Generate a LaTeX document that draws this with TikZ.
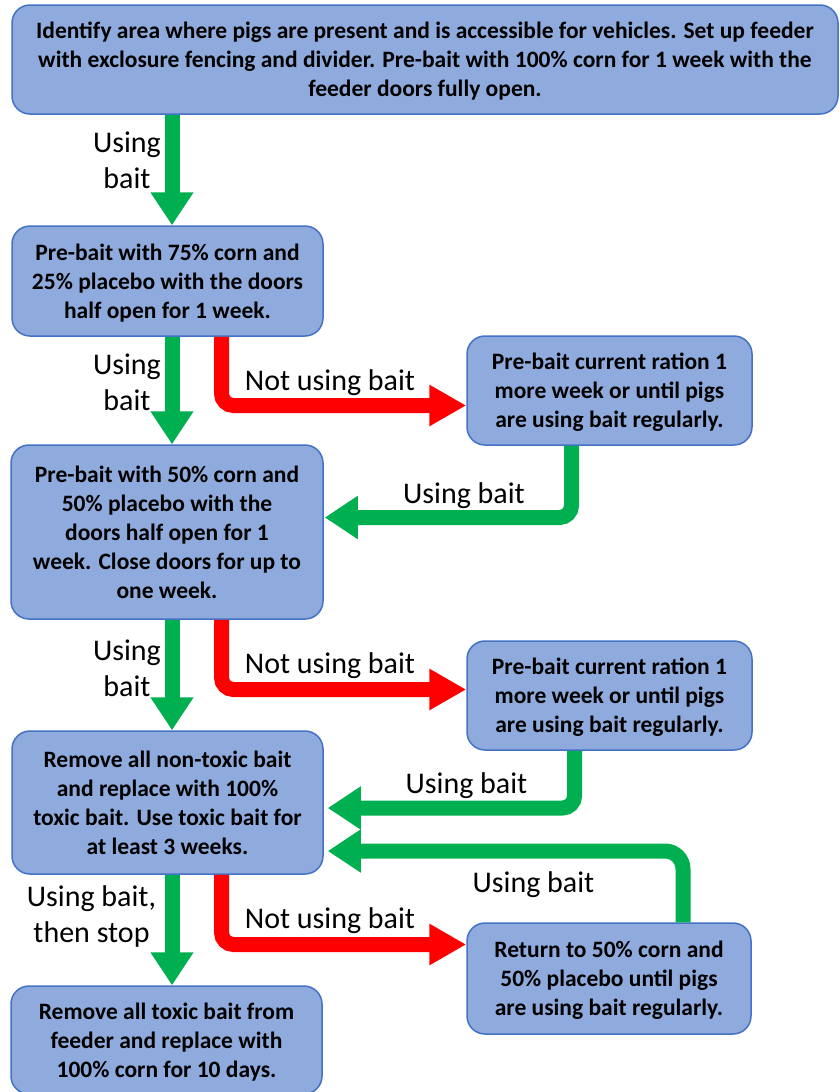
\documentclass[tikz,border=0pt]{standalone}
\usepackage{fontspec}
\setmainfont{Carlito}
\usetikzlibrary{arrows.meta}
\definecolor{boxfill}{HTML}{8FAADC}
\definecolor{boxline}{HTML}{4472C4}
\definecolor{grn}{HTML}{00B050}
\definecolor{rd}{HTML}{FF0000}
\begin{document}
\begin{tikzpicture}[x=1pt,y=-1pt,
  box/.style={draw=boxline, fill=boxfill, line width=1.5pt, rounded corners=18pt,
    inner sep=0pt, align=center, text depth=0pt, font=\fontsize{23.5}{29}\selectfont\bfseries},
  lbl/.style={inner sep=0pt, align=center, font=\fontsize{30}{36}\selectfont},
  garrow/.style={draw=grn, line width=15pt, -{Triangle[width=41pt,length=33pt]}, rounded corners=12pt},
  rarrow/.style={draw=rd, line width=15pt, -{Triangle[width=39pt,length=37pt]}, rounded corners=12pt}]
\useasboundingbox (0,0) rectangle (839,1092);
\fill[white] (0,0) rectangle (839,1092);

% boxes
\node[box, minimum width=826pt, minimum height=109pt] (b1) at (425,59.5)
  {Identify area where pigs are present and is accessible for vehicles. Set up feeder\\with exclosure fencing and divider. Pre-bait with 100\% corn for 1 week with the\\feeder doors fully open.};
\node[box, minimum width=311pt, minimum height=110pt] (b2) at (167.5,281)
  {Pre-bait with 75\% corn and\\25\% placebo with the doors\\half open for 1 week.};
\node[box, minimum width=285pt, minimum height=109pt] (b3) at (609.5,390.5)
  {Pre-bait current ration 1\\more week or until pigs\\are using bait regularly.};
\node[box, minimum width=312pt, minimum height=174pt] (b4) at (167,532)
  {Pre-bait with 50\% corn and\\50\% placebo with the\\doors half open for 1\\week. Close doors for up to\\one week.};
\node[box, minimum width=285pt, minimum height=109pt] (b5) at (609.5,695.5)
  {Pre-bait current ration 1\\more week or until pigs\\are using bait regularly.};
\node[box, minimum width=311pt, minimum height=143pt] (b6) at (167.5,802.5)
  {Remove all non-toxic bait\\and replace with 100\%\\toxic bait. Use toxic bait for\\at least 3 weeks.};
\node[box, minimum width=284pt, minimum height=111pt] (b7) at (609,978.5)
  {Return to 50\% corn and\\50\% placebo until pigs\\are using bait regularly.};
\node[box, minimum width=311pt, minimum height=108pt] (b8) at (166.5,1040)
  {Remove all toxic bait from\\feeder and replace with\\100\% corn for 10 days.};

% x positions of connectors
\coordinate (xg) at (172,0);
\coordinate (xr) at (221.5,0);
\coordinate (xa) at (571.5,0);
\coordinate (xb) at (574.5,0);
\coordinate (xc) at (683,0);

% connectors
\draw[garrow] (b1.south -| xg) -- (b2.north -| xg);
\draw[garrow] (b2.south -| xg) -- (b4.north -| xg);
\draw[rarrow] (b2.south -| xr) |- ([yshift=-15pt]b3.west);
\draw[garrow, shorten >=1pt] (b3.south -| xa) |- ([yshift=14.5pt]b4.east);
\draw[garrow] (b4.south -| xg) -- (b6.north -| xg);
\draw[rarrow] (b4.south -| xr) |- ([yshift=6pt]b5.west);
\draw[garrow, shorten >=4pt] (b5.south -| xb) |- ([yshift=-5.5pt]b6.east);
\draw[garrow, shorten >=4pt, rounded corners=18pt] (b7.north -| xc) |- ([yshift=-48.5pt]b6.east);
\draw[garrow] (b6.south -| xg) -- (b8.north -| xg);
\draw[rarrow] (b6.south -| xr) |- ([yshift=34pt]b7.west);

% labels
\node[lbl] (l1) at (127,160) {Using\\bait};
\node[lbl] (l2) at (127,382) {Using\\bait};
\node[lbl, anchor=base] (l3) at (330,390) {Not using bait};
\node[lbl, anchor=base] (l4) at (464,503) {Using bait};
\node[lbl] (l5) at (127,668) {Using\\bait};
\node[lbl, anchor=base] (l6) at (330,673) {Not using bait};
\node[lbl, anchor=base] (l7) at (466.5,793) {Using bait};
\node[lbl, anchor=base] (l8) at (533.5,892) {Using bait};
\node[lbl] (l9) at (91.5,916) {Using bait,\\then stop};
\node[lbl, anchor=base] (l10) at (330,928) {Not using bait};
\end{tikzpicture}
\end{document}
